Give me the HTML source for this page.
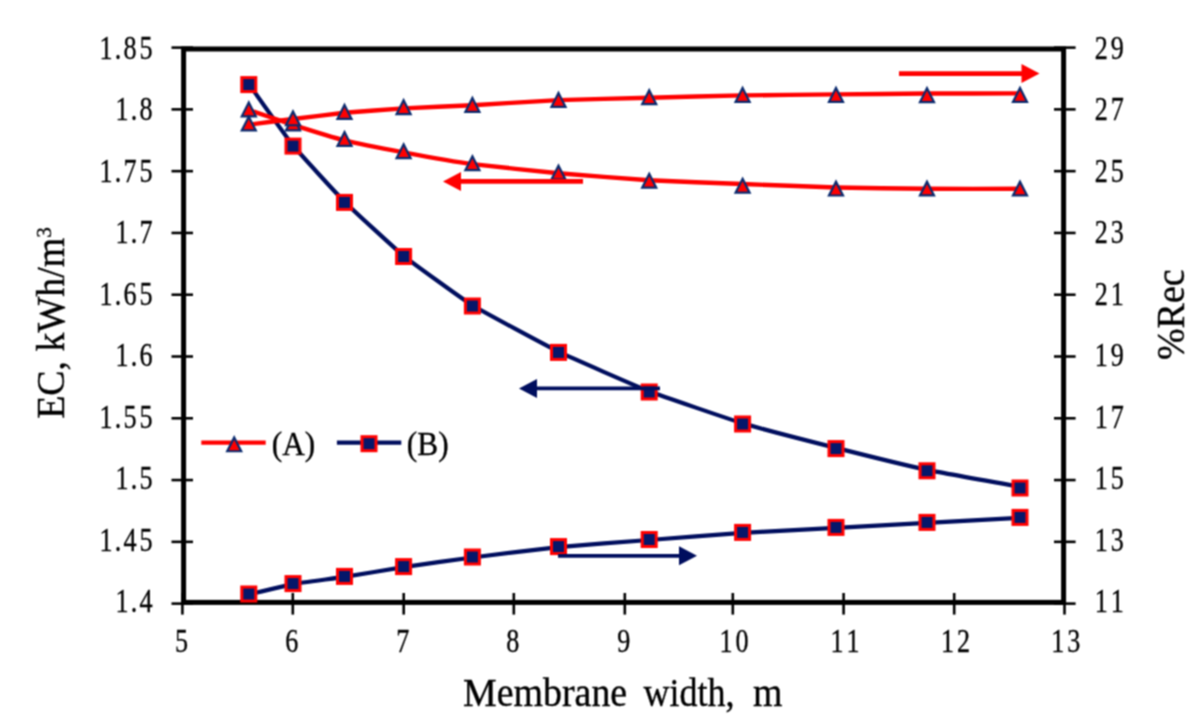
<!DOCTYPE html>
<html><head><meta charset="utf-8"><style>
html,body{margin:0;padding:0;background:#fff;width:1195px;height:718px;overflow:hidden}
svg{display:block}
.t{font-family:"Liberation Serif",serif;font-size:33.5px;fill:#000;stroke:#000;stroke-width:0.35px}
.ti{font-family:"Liberation Serif",serif;font-size:39.5px;fill:#000;stroke:#000;stroke-width:0.35px}
</style></head><body>
<svg width="1195" height="718" viewBox="0 0 1195 718">
<defs><filter id="soft" filterUnits="userSpaceOnUse" x="0" y="0" width="1195" height="718" color-interpolation-filters="sRGB"><feConvolveMatrix order="3" kernelMatrix="1 2 1 2 4 2 1 2 1" divisor="16" edgeMode="duplicate"/></filter></defs>
<g filter="url(#soft)">
<rect width="1195" height="718" fill="#fff"/>
<rect x="183.60" y="49.00" width="880.00" height="553.40" fill="none" stroke="#000" stroke-width="5.0"/>
<line x1="171.5" y1="47.60" x2="193" y2="47.60" stroke="#000" stroke-width="2.6"/>
<line x1="1054" y1="47.60" x2="1075.6" y2="47.60" stroke="#000" stroke-width="2.6"/>
<line x1="171.5" y1="109.38" x2="193" y2="109.38" stroke="#000" stroke-width="2.6"/>
<line x1="1054" y1="109.38" x2="1075.6" y2="109.38" stroke="#000" stroke-width="2.6"/>
<line x1="171.5" y1="171.16" x2="193" y2="171.16" stroke="#000" stroke-width="2.6"/>
<line x1="1054" y1="171.16" x2="1075.6" y2="171.16" stroke="#000" stroke-width="2.6"/>
<line x1="171.5" y1="232.94" x2="193" y2="232.94" stroke="#000" stroke-width="2.6"/>
<line x1="1054" y1="232.94" x2="1075.6" y2="232.94" stroke="#000" stroke-width="2.6"/>
<line x1="171.5" y1="294.72" x2="193" y2="294.72" stroke="#000" stroke-width="2.6"/>
<line x1="1054" y1="294.72" x2="1075.6" y2="294.72" stroke="#000" stroke-width="2.6"/>
<line x1="171.5" y1="356.50" x2="193" y2="356.50" stroke="#000" stroke-width="2.6"/>
<line x1="1054" y1="356.50" x2="1075.6" y2="356.50" stroke="#000" stroke-width="2.6"/>
<line x1="171.5" y1="418.28" x2="193" y2="418.28" stroke="#000" stroke-width="2.6"/>
<line x1="1054" y1="418.28" x2="1075.6" y2="418.28" stroke="#000" stroke-width="2.6"/>
<line x1="171.5" y1="480.06" x2="193" y2="480.06" stroke="#000" stroke-width="2.6"/>
<line x1="1054" y1="480.06" x2="1075.6" y2="480.06" stroke="#000" stroke-width="2.6"/>
<line x1="171.5" y1="541.84" x2="193" y2="541.84" stroke="#000" stroke-width="2.6"/>
<line x1="1054" y1="541.84" x2="1075.6" y2="541.84" stroke="#000" stroke-width="2.6"/>
<line x1="171.5" y1="603.62" x2="193" y2="603.62" stroke="#000" stroke-width="2.6"/>
<line x1="1054" y1="603.62" x2="1075.6" y2="603.62" stroke="#000" stroke-width="2.6"/>
<line x1="182.40" y1="593" x2="182.40" y2="614.6" stroke="#000" stroke-width="2.6"/>
<line x1="292.80" y1="593" x2="292.80" y2="614.6" stroke="#000" stroke-width="2.6"/>
<line x1="403.70" y1="593" x2="403.70" y2="614.6" stroke="#000" stroke-width="2.6"/>
<line x1="513.80" y1="593" x2="513.80" y2="614.6" stroke="#000" stroke-width="2.6"/>
<line x1="624.80" y1="593" x2="624.80" y2="614.6" stroke="#000" stroke-width="2.6"/>
<line x1="732.80" y1="593" x2="732.80" y2="614.6" stroke="#000" stroke-width="2.6"/>
<line x1="843.60" y1="593" x2="843.60" y2="614.6" stroke="#000" stroke-width="2.6"/>
<line x1="954.20" y1="593" x2="954.20" y2="614.6" stroke="#000" stroke-width="2.6"/>
<line x1="1064.50" y1="593" x2="1064.50" y2="614.6" stroke="#000" stroke-width="2.6"/>
<path d="M248.80,83.90 C251.45,87.59 287.26,138.33 293.00,145.40 C298.74,152.47 337.86,195.08 344.50,201.70 C351.14,208.32 395.93,249.58 403.60,255.80 C411.27,262.02 463.11,299.55 472.40,305.30 C481.69,311.05 547.89,346.54 558.50,351.70 C569.11,356.86 638.15,387.00 649.20,391.30 C660.25,395.60 731.39,419.90 742.60,423.30 C753.81,426.70 824.94,445.10 836.00,447.90 C847.06,450.70 915.96,467.57 927.00,469.90 C938.04,472.23 1014.42,485.79 1020.00,486.80" fill="none" stroke="#000e5e" stroke-width="4.2" stroke-linejoin="round"/>
<rect x="241.80" y="77.60" width="14.00" height="14.00" fill="#06176a" stroke="#ff0000" stroke-width="3.0"/>
<rect x="286.00" y="139.10" width="14.00" height="14.00" fill="#06176a" stroke="#ff0000" stroke-width="3.0"/>
<rect x="337.50" y="195.40" width="14.00" height="14.00" fill="#06176a" stroke="#ff0000" stroke-width="3.0"/>
<rect x="396.60" y="249.50" width="14.00" height="14.00" fill="#06176a" stroke="#ff0000" stroke-width="3.0"/>
<rect x="465.40" y="299.00" width="14.00" height="14.00" fill="#06176a" stroke="#ff0000" stroke-width="3.0"/>
<rect x="551.50" y="345.40" width="14.00" height="14.00" fill="#06176a" stroke="#ff0000" stroke-width="3.0"/>
<rect x="642.20" y="385.00" width="14.00" height="14.00" fill="#06176a" stroke="#ff0000" stroke-width="3.0"/>
<rect x="735.60" y="417.00" width="14.00" height="14.00" fill="#06176a" stroke="#ff0000" stroke-width="3.0"/>
<rect x="829.00" y="441.60" width="14.00" height="14.00" fill="#06176a" stroke="#ff0000" stroke-width="3.0"/>
<rect x="920.00" y="463.80" width="14.00" height="14.00" fill="#06176a" stroke="#ff0000" stroke-width="3.0"/>
<rect x="1013.00" y="481.00" width="14.00" height="14.00" fill="#06176a" stroke="#ff0000" stroke-width="3.0"/>
<path d="M248.80,594.50 C251.45,593.88 287.26,585.16 293.00,584.10 C298.74,583.04 337.86,577.92 344.50,576.90 C351.14,575.88 395.93,568.26 403.60,567.10 C411.27,565.94 463.11,558.70 472.40,557.50 C481.69,556.30 547.89,548.15 558.50,547.10 C569.11,546.05 638.15,540.85 649.20,540.00 C660.25,539.15 731.39,533.63 742.60,532.90 C753.81,532.17 824.94,528.50 836.00,527.90 C847.06,527.30 915.96,523.50 927.00,522.90 C938.04,522.30 1014.42,518.20 1020.00,517.90" fill="none" stroke="#000e5e" stroke-width="4.2" stroke-linejoin="round"/>
<rect x="241.80" y="587.00" width="14.00" height="14.00" fill="#06176a" stroke="#ff0000" stroke-width="3.0"/>
<rect x="286.00" y="576.60" width="14.00" height="14.00" fill="#06176a" stroke="#ff0000" stroke-width="3.0"/>
<rect x="337.50" y="569.40" width="14.00" height="14.00" fill="#06176a" stroke="#ff0000" stroke-width="3.0"/>
<rect x="396.60" y="559.60" width="14.00" height="14.00" fill="#06176a" stroke="#ff0000" stroke-width="3.0"/>
<rect x="465.40" y="550.00" width="14.00" height="14.00" fill="#06176a" stroke="#ff0000" stroke-width="3.0"/>
<rect x="551.50" y="539.60" width="14.00" height="14.00" fill="#06176a" stroke="#ff0000" stroke-width="3.0"/>
<rect x="642.20" y="532.50" width="14.00" height="14.00" fill="#06176a" stroke="#ff0000" stroke-width="3.0"/>
<rect x="735.60" y="525.40" width="14.00" height="14.00" fill="#06176a" stroke="#ff0000" stroke-width="3.0"/>
<rect x="829.00" y="520.40" width="14.00" height="14.00" fill="#06176a" stroke="#ff0000" stroke-width="3.0"/>
<rect x="920.00" y="515.40" width="14.00" height="14.00" fill="#06176a" stroke="#ff0000" stroke-width="3.0"/>
<rect x="1013.00" y="510.40" width="14.00" height="14.00" fill="#06176a" stroke="#ff0000" stroke-width="3.0"/>
<path d="M248.80,110.00 C251.45,110.89 287.26,122.98 293.00,124.80 C298.74,126.62 337.86,138.65 344.50,140.30 C351.14,141.95 395.93,150.87 403.60,152.30 C411.27,153.73 463.11,162.85 472.40,164.10 C481.69,165.35 547.89,172.23 558.50,173.20 C569.11,174.17 638.15,179.65 649.20,180.30 C660.25,180.95 731.39,183.57 742.60,184.00 C753.81,184.43 824.94,187.21 836.00,187.50 C847.06,187.79 915.96,188.72 927.00,188.80 C938.04,188.88 1014.42,188.80 1020.00,188.80" fill="none" stroke="#ff0000" stroke-width="4.4" stroke-linejoin="round"/>
<path d="M248.80,102.50 L255.80,116.30 L241.80,116.30 Z" fill="#ff0000" stroke="#0a2a6e" stroke-width="2.2" stroke-linejoin="miter"/>
<path d="M293.00,116.55 L300.00,130.35 L286.00,130.35 Z" fill="#ff0000" stroke="#0a2a6e" stroke-width="2.2" stroke-linejoin="miter"/>
<path d="M344.50,132.10 L351.50,145.90 L337.50,145.90 Z" fill="#ff0000" stroke="#0a2a6e" stroke-width="2.2" stroke-linejoin="miter"/>
<path d="M403.60,144.35 L410.60,158.15 L396.60,158.15 Z" fill="#ff0000" stroke="#0a2a6e" stroke-width="2.2" stroke-linejoin="miter"/>
<path d="M472.40,156.35 L479.40,170.15 L465.40,170.15 Z" fill="#ff0000" stroke="#0a2a6e" stroke-width="2.2" stroke-linejoin="miter"/>
<path d="M558.50,165.65 L565.50,179.45 L551.50,179.45 Z" fill="#ff0000" stroke="#0a2a6e" stroke-width="2.2" stroke-linejoin="miter"/>
<path d="M649.20,173.85 L656.20,187.65 L642.20,187.65 Z" fill="#ff0000" stroke="#0a2a6e" stroke-width="2.2" stroke-linejoin="miter"/>
<path d="M742.60,178.85 L749.60,192.65 L735.60,192.65 Z" fill="#ff0000" stroke="#0a2a6e" stroke-width="2.2" stroke-linejoin="miter"/>
<path d="M836.00,181.70 L843.00,195.50 L829.00,195.50 Z" fill="#ff0000" stroke="#0a2a6e" stroke-width="2.2" stroke-linejoin="miter"/>
<path d="M927.00,181.65 L934.00,195.45 L920.00,195.45 Z" fill="#ff0000" stroke="#0a2a6e" stroke-width="2.2" stroke-linejoin="miter"/>
<path d="M1020.00,181.65 L1027.00,195.45 L1013.00,195.45 Z" fill="#ff0000" stroke="#0a2a6e" stroke-width="2.2" stroke-linejoin="miter"/>
<path d="M248.80,124.70 C251.45,124.36 287.26,119.71 293.00,119.00 C298.74,118.29 337.86,113.44 344.50,112.80 C351.14,112.16 395.93,108.86 403.60,108.40 C411.27,107.94 463.11,105.70 472.40,105.20 C481.69,104.70 547.89,100.54 558.50,100.10 C569.11,99.66 638.15,98.08 649.20,97.80 C660.25,97.52 731.39,95.60 742.60,95.40 C753.81,95.20 824.94,94.51 836.00,94.40 C847.06,94.29 915.96,93.56 927.00,93.50 C938.04,93.44 1014.42,93.41 1020.00,93.40" fill="none" stroke="#ff0000" stroke-width="4.4" stroke-linejoin="round"/>
<path d="M248.80,116.65 L255.80,130.45 L241.80,130.45 Z" fill="#ff0000" stroke="#0a2a6e" stroke-width="2.2" stroke-linejoin="miter"/>
<path d="M293.00,111.45 L300.00,125.25 L286.00,125.25 Z" fill="#ff0000" stroke="#0a2a6e" stroke-width="2.2" stroke-linejoin="miter"/>
<path d="M344.50,105.00 L351.50,118.80 L337.50,118.80 Z" fill="#ff0000" stroke="#0a2a6e" stroke-width="2.2" stroke-linejoin="miter"/>
<path d="M403.60,100.25 L410.60,114.05 L396.60,114.05 Z" fill="#ff0000" stroke="#0a2a6e" stroke-width="2.2" stroke-linejoin="miter"/>
<path d="M472.40,98.05 L479.40,111.85 L465.40,111.85 Z" fill="#ff0000" stroke="#0a2a6e" stroke-width="2.2" stroke-linejoin="miter"/>
<path d="M558.50,93.00 L565.50,106.80 L551.50,106.80 Z" fill="#ff0000" stroke="#0a2a6e" stroke-width="2.2" stroke-linejoin="miter"/>
<path d="M649.20,90.25 L656.20,104.05 L642.20,104.05 Z" fill="#ff0000" stroke="#0a2a6e" stroke-width="2.2" stroke-linejoin="miter"/>
<path d="M742.60,88.00 L749.60,101.80 L735.60,101.80 Z" fill="#ff0000" stroke="#0a2a6e" stroke-width="2.2" stroke-linejoin="miter"/>
<path d="M836.00,88.00 L843.00,101.80 L829.00,101.80 Z" fill="#ff0000" stroke="#0a2a6e" stroke-width="2.2" stroke-linejoin="miter"/>
<path d="M927.00,88.25 L934.00,102.05 L920.00,102.05 Z" fill="#ff0000" stroke="#0a2a6e" stroke-width="2.2" stroke-linejoin="miter"/>
<path d="M1020.00,88.05 L1027.00,101.85 L1013.00,101.85 Z" fill="#ff0000" stroke="#0a2a6e" stroke-width="2.2" stroke-linejoin="miter"/>
<line x1="899.00" y1="73.60" x2="1024.00" y2="73.60" stroke="#ff0000" stroke-width="4.8"/><path d="M1039.50,73.60 L1021.50,64.10 L1021.50,83.10 Z" fill="#ff0000"/>
<line x1="583.00" y1="181.40" x2="458.00" y2="181.40" stroke="#ff0000" stroke-width="4.8"/><path d="M443.00,181.40 L461.00,171.90 L461.00,190.90 Z" fill="#ff0000"/>
<line x1="660.00" y1="388.40" x2="534.00" y2="388.40" stroke="#000e5e" stroke-width="3.8"/><path d="M519.00,388.40 L537.00,378.90 L537.00,397.90 Z" fill="#000e5e"/>
<line x1="558.00" y1="555.80" x2="682.00" y2="555.80" stroke="#000e5e" stroke-width="3.8"/><path d="M697.00,555.80 L679.00,546.30 L679.00,565.30 Z" fill="#000e5e"/>
<text transform="translate(106.00,59.00) scale(0.780,1)" text-anchor="middle" class="t">1</text><text transform="translate(118.00,59.00) scale(0.780,1)" text-anchor="middle" class="t">.</text><text transform="translate(130.00,59.00) scale(0.780,1)" text-anchor="middle" class="t">8</text><text transform="translate(146.00,59.00) scale(0.780,1)" text-anchor="middle" class="t">5</text>
<text transform="translate(122.00,120.48) scale(0.780,1)" text-anchor="middle" class="t">1</text><text transform="translate(134.00,120.48) scale(0.780,1)" text-anchor="middle" class="t">.</text><text transform="translate(146.00,120.48) scale(0.780,1)" text-anchor="middle" class="t">8</text>
<text transform="translate(106.00,181.96) scale(0.780,1)" text-anchor="middle" class="t">1</text><text transform="translate(118.00,181.96) scale(0.780,1)" text-anchor="middle" class="t">.</text><text transform="translate(130.00,181.96) scale(0.780,1)" text-anchor="middle" class="t">7</text><text transform="translate(146.00,181.96) scale(0.780,1)" text-anchor="middle" class="t">5</text>
<text transform="translate(122.00,243.44) scale(0.780,1)" text-anchor="middle" class="t">1</text><text transform="translate(134.00,243.44) scale(0.780,1)" text-anchor="middle" class="t">.</text><text transform="translate(146.00,243.44) scale(0.780,1)" text-anchor="middle" class="t">7</text>
<text transform="translate(106.00,304.92) scale(0.780,1)" text-anchor="middle" class="t">1</text><text transform="translate(118.00,304.92) scale(0.780,1)" text-anchor="middle" class="t">.</text><text transform="translate(130.00,304.92) scale(0.780,1)" text-anchor="middle" class="t">6</text><text transform="translate(146.00,304.92) scale(0.780,1)" text-anchor="middle" class="t">5</text>
<text transform="translate(122.00,366.40) scale(0.780,1)" text-anchor="middle" class="t">1</text><text transform="translate(134.00,366.40) scale(0.780,1)" text-anchor="middle" class="t">.</text><text transform="translate(146.00,366.40) scale(0.780,1)" text-anchor="middle" class="t">6</text>
<text transform="translate(106.00,427.88) scale(0.780,1)" text-anchor="middle" class="t">1</text><text transform="translate(118.00,427.88) scale(0.780,1)" text-anchor="middle" class="t">.</text><text transform="translate(130.00,427.88) scale(0.780,1)" text-anchor="middle" class="t">5</text><text transform="translate(146.00,427.88) scale(0.780,1)" text-anchor="middle" class="t">5</text>
<text transform="translate(122.00,489.36) scale(0.780,1)" text-anchor="middle" class="t">1</text><text transform="translate(134.00,489.36) scale(0.780,1)" text-anchor="middle" class="t">.</text><text transform="translate(146.00,489.36) scale(0.780,1)" text-anchor="middle" class="t">5</text>
<text transform="translate(106.00,550.84) scale(0.780,1)" text-anchor="middle" class="t">1</text><text transform="translate(118.00,550.84) scale(0.780,1)" text-anchor="middle" class="t">.</text><text transform="translate(130.00,550.84) scale(0.780,1)" text-anchor="middle" class="t">4</text><text transform="translate(146.00,550.84) scale(0.780,1)" text-anchor="middle" class="t">5</text>
<text transform="translate(122.00,612.32) scale(0.780,1)" text-anchor="middle" class="t">1</text><text transform="translate(134.00,612.32) scale(0.780,1)" text-anchor="middle" class="t">.</text><text transform="translate(146.00,612.32) scale(0.780,1)" text-anchor="middle" class="t">4</text>
<text transform="translate(1101.20,59.00) scale(0.780,1)" text-anchor="middle" class="t">2</text><text transform="translate(1117.20,59.00) scale(0.780,1)" text-anchor="middle" class="t">9</text>
<text transform="translate(1101.20,120.48) scale(0.780,1)" text-anchor="middle" class="t">2</text><text transform="translate(1117.20,120.48) scale(0.780,1)" text-anchor="middle" class="t">7</text>
<text transform="translate(1101.20,181.96) scale(0.780,1)" text-anchor="middle" class="t">2</text><text transform="translate(1117.20,181.96) scale(0.780,1)" text-anchor="middle" class="t">5</text>
<text transform="translate(1101.20,243.44) scale(0.780,1)" text-anchor="middle" class="t">2</text><text transform="translate(1117.20,243.44) scale(0.780,1)" text-anchor="middle" class="t">3</text>
<text transform="translate(1101.20,304.92) scale(0.780,1)" text-anchor="middle" class="t">2</text><text transform="translate(1117.20,304.92) scale(0.780,1)" text-anchor="middle" class="t">1</text>
<text transform="translate(1101.20,366.40) scale(0.780,1)" text-anchor="middle" class="t">1</text><text transform="translate(1117.20,366.40) scale(0.780,1)" text-anchor="middle" class="t">9</text>
<text transform="translate(1101.20,427.88) scale(0.780,1)" text-anchor="middle" class="t">1</text><text transform="translate(1117.20,427.88) scale(0.780,1)" text-anchor="middle" class="t">7</text>
<text transform="translate(1101.20,489.36) scale(0.780,1)" text-anchor="middle" class="t">1</text><text transform="translate(1117.20,489.36) scale(0.780,1)" text-anchor="middle" class="t">5</text>
<text transform="translate(1101.20,550.84) scale(0.780,1)" text-anchor="middle" class="t">1</text><text transform="translate(1117.20,550.84) scale(0.780,1)" text-anchor="middle" class="t">3</text>
<text transform="translate(1101.20,612.32) scale(0.780,1)" text-anchor="middle" class="t">1</text><text transform="translate(1117.20,612.32) scale(0.780,1)" text-anchor="middle" class="t">1</text>
<text transform="translate(181.40,652.30) scale(0.780,1)" text-anchor="middle" class="t">5</text>
<text transform="translate(291.80,652.30) scale(0.780,1)" text-anchor="middle" class="t">6</text>
<text transform="translate(402.70,652.30) scale(0.780,1)" text-anchor="middle" class="t">7</text>
<text transform="translate(512.80,652.30) scale(0.780,1)" text-anchor="middle" class="t">8</text>
<text transform="translate(623.80,652.30) scale(0.780,1)" text-anchor="middle" class="t">9</text>
<text transform="translate(726.10,652.30) scale(0.780,1)" text-anchor="middle" class="t">1</text><text transform="translate(742.10,652.30) scale(0.780,1)" text-anchor="middle" class="t">0</text>
<text transform="translate(836.90,652.30) scale(0.780,1)" text-anchor="middle" class="t">1</text><text transform="translate(852.90,652.30) scale(0.780,1)" text-anchor="middle" class="t">1</text>
<text transform="translate(947.50,652.30) scale(0.780,1)" text-anchor="middle" class="t">1</text><text transform="translate(963.50,652.30) scale(0.780,1)" text-anchor="middle" class="t">2</text>
<text transform="translate(1057.80,652.30) scale(0.780,1)" text-anchor="middle" class="t">1</text><text transform="translate(1073.80,652.30) scale(0.780,1)" text-anchor="middle" class="t">3</text>
<text transform="translate(463.00,705.50) scale(0.960,1)" class="ti">Membrane</text>
<text transform="translate(643.50,705.50) scale(0.960,1)" class="ti" textLength="94.79" lengthAdjust="spacingAndGlyphs">width,</text>
<text transform="translate(753.00,705.50) scale(0.960,1)" class="ti">m</text>
<text transform="translate(63.7,323) rotate(-90) scale(0.960,1)" text-anchor="middle" class="ti">EC, kWh/m<tspan dy="-12.5" font-size="22">3</tspan></text>
<text transform="translate(1183.8,314.7) rotate(-90) scale(0.960,1)" text-anchor="middle" class="ti">%Rec</text>
<line x1="201.3" y1="442.6" x2="265.7" y2="442.6" stroke="#ff0000" stroke-width="4.4"/>
<path d="M234.20,437.45 L241.20,451.25 L227.20,451.25 Z" fill="#ff0000" stroke="#0a2a6e" stroke-width="2.2" stroke-linejoin="miter"/>
<text transform="translate(271.8,454.8) scale(0.95,1)" class="t" style="font-size:33px">(A)</text>
<line x1="336.9" y1="442.6" x2="401.3" y2="442.6" stroke="#000e5e" stroke-width="4.4"/>
<rect x="362.00" y="436.70" width="14.00" height="14.00" fill="#06176a" stroke="#ff0000" stroke-width="3.0"/>
<text transform="translate(406.8,454.8) scale(0.95,1)" class="t" style="font-size:33px">(B)</text>
</g>
</svg>
</body></html>
